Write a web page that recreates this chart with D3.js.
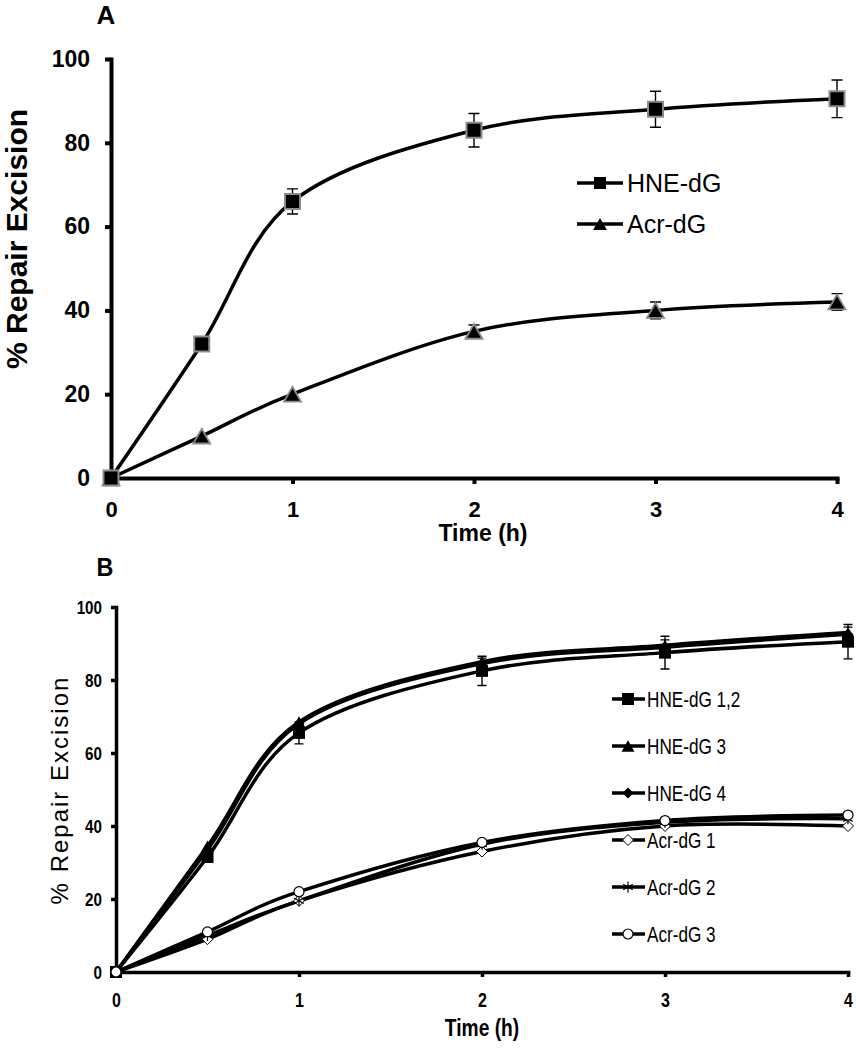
<!DOCTYPE html>
<html><head><meta charset="utf-8">
<script src="https://cdn.jsdelivr.net/npm/d3@7"></script>
<style>body{margin:0;background:#fff} svg{display:block}</style>
</head><body>
<svg id="c" width="856" height="1050"></svg>
<script>
// ---------- DATA ----------
const timeH = [0, 0.5, 1, 2, 3, 4];
const xTicks = [0, 1, 2, 3, 4];
const yTicks = [0, 20, 40, 60, 80, 100];
// Panel A
const hneA = [0, 32, 66, 83, 88, 90.5];
const hneAErr = [0, 0, 3, 4, 4.3, 4.5];
const acrA = [0, 10, 20, 35, 40, 42];
const acrAErr = [0, 0, 0, 1.5, 2, 2];
const namesA = ["HNE-dG", "Acr-dG"];
// Panel B
const hne12B = [0, 31.5, 65.5, 82.5, 87.5, 90.5];
const hne12BErr = [0, 1, 3, 4, 4.5, 4.7];
const hne3B = [0, 34.5, 68.5, 85, 89.5, 93];
const hne3BErr = [0, 0, 0, 1, 1.5, 1.5];
const hne4B = [0, 33.5, 68, 84.5, 89, 92.5];
const acr1B = [0, 9, 19.5, 33, 40, 40];
const acr2B = [0, 10, 19.5, 35, 41, 42];
const acr3B = [0, 11, 22, 35.5, 41.5, 43];
const namesB = ["HNE-dG 1,2", "HNE-dG 3", "HNE-dG 4", "Acr-dG 1", "Acr-dG 2", "Acr-dG 3"];

// ---------- HELPERS ----------
const svg = d3.select("#c");
const FONT = "'Liberation Sans', Arial, sans-serif";
const fmt = d3.format("d");

function markerPath(type, s) {
  const h = s / 2;
  switch (type) {
    case "square": return `M${-h},${-h}h${s}v${s}h${-s}Z`;
    case "triangle": { const th = s * 0.87; return `M0,${-th/2}L${h},${th/2}L${-h},${th/2}Z`; }
    case "diamond": return `M0,${-h}L${h},0L0,${h}L${-h},0Z`;
    case "circle": return `M${h},0A${h},${h} 0 1,1 ${-h},0A${h},${h} 0 1,1 ${h},0Z`;
    case "asterisk": {
      const a = h * 0.87, b = h * 0.5;
      return `M0,${-h}V${h}M${-a},${-b}L${a},${b}M${-a},${b}L${a},${-b}`;
    }
  }
}
function condense(sel, k) {
  sel.each(function () {
    const t = d3.select(this);
    const x = +t.attr("x") || 0, y = +t.attr("y") || 0;
    t.attr("x", null).attr("y", null).attr("transform", `translate(${x},${y}) scale(${k},1)`);
  });
}
function styleAxis(g, w, font, size, weight) {
  g.attr("font-family", font).attr("font-size", size).attr("font-weight", weight);
  g.select(".domain").attr("stroke", "#000").attr("stroke-width", w).attr("stroke-linecap", "square");
  g.selectAll(".tick line").attr("stroke", "#000").attr("stroke-width", w);
  g.selectAll(".tick text").attr("fill", "#000");
}
const curve = d3.curveCardinal.tension(0);

function drawSeries(g, x, y, vals, opt) {
  const pts = timeH.map((t, i) => [t, vals[i]]);
  g.append("path").datum(pts)
    .attr("d", d3.line().x(d => x(d[0])).y(d => y(d[1])).curve(curve))
    .attr("fill", "none").attr("stroke", "#000").attr("stroke-width", opt.lw);
}
function drawErr(g, x, y, vals, errs, cap, lw) {
  timeH.forEach((t, i) => {
    if (!errs[i]) return;
    const cx = x(t), y1 = y(vals[i] + errs[i]), y2 = y(vals[i] - errs[i]);
    g.append("path")
      .attr("d", `M${cx},${y1}V${y2}M${cx - cap/2},${y1}h${cap}M${cx - cap/2},${y2}h${cap}`)
      .attr("fill", "none").attr("stroke", "#000").attr("stroke-width", lw);
  });
}
function drawMarkers(g, x, y, vals, m) {
  g.selectAll(null).data(timeH.map((t, i) => [t, vals[i]])).enter().append("path")
    .attr("transform", d => `translate(${x(d[0])},${y(d[1])})`)
    .attr("d", markerPath(m.type, m.size))
    .attr("fill", m.fill).attr("stroke", m.stroke).attr("stroke-width", m.sw);
}

// ---------- PANEL A ----------
{
  const x = d3.scaleLinear().domain([0, 4]).range([111, 837]);
  const y = d3.scaleLinear().domain([0, 100]).range([478, 59]);
  const g = svg.append("g");

  const ay = g.append("g").attr("transform", `translate(${x(0)},0)`)
    .call(d3.axisLeft(y).tickValues(yTicks).tickFormat(fmt).tickSize(6).tickSizeOuter(0).tickPadding(15));
  styleAxis(ay, 4, FONT, 23, "bold");
  const ax = g.append("g").attr("transform", `translate(0,${y(0)})`)
    .call(d3.axisBottom(x).tickValues(xTicks).tickFormat(fmt).tickSize(6).tickSizeOuter(0).tickPadding(17));
  styleAxis(ax, 4, FONT, 22, "bold");

  g.append("text").attr("x", 106).attr("y", 24).attr("text-anchor", "middle")
    .attr("font-family", FONT).attr("font-size", 26).attr("font-weight", "bold").text("A");
  g.append("text").attr("x", 483).attr("y", 541).attr("text-anchor", "middle")
    .attr("font-family", FONT).attr("font-size", 23).attr("font-weight", "bold").text("Time (h)");
  g.append("text").attr("transform", "translate(27,239) rotate(-90)").attr("text-anchor", "middle")
    .attr("font-family", FONT).attr("font-size", 30).attr("font-weight", "bold").text("% Repair Excision");

  drawSeries(g, x, y, hneA, { lw: 3.5 });
  drawSeries(g, x, y, acrA, { lw: 3.5 });
  drawErr(g, x, y, hneA, hneAErr, 11, 1.4);
  drawErr(g, x, y, acrA, acrAErr, 11, 1.4);
  drawMarkers(g, x, y, acrA, { type: "triangle", size: 17, fill: "#000", stroke: "#8a8a8a", sw: 1.8 });
  drawMarkers(g, x, y, hneA, { type: "square", size: 15, fill: "#000", stroke: "#8a8a8a", sw: 2 });

  // legend
  const lg = g.append("g");
  const rows = [{ name: namesA[0], type: "square", cy: 183, s: 12 }, { name: namesA[1], type: "triangle", cy: 224, s: 14 }];
  rows.forEach(r => {
    lg.append("line").attr("x1", 577).attr("x2", 623).attr("y1", r.cy).attr("y2", r.cy)
      .attr("stroke", "#000").attr("stroke-width", 3.5);
    lg.append("path").attr("transform", `translate(600,${r.cy})`).attr("d", markerPath(r.type, r.s)).attr("fill", "#000");
    lg.append("text").attr("x", 627).attr("y", r.cy + 9).attr("font-family", FONT).attr("font-size", 25).text(r.name);
  });
}

// ---------- PANEL B ----------
{
  const x = d3.scaleLinear().domain([0, 4]).range([116, 848]);
  const y = d3.scaleLinear().domain([0, 100]).range([972, 607]);
  const g = svg.append("g");
  const K = 0.8;

  const ay = g.append("g").attr("transform", `translate(${x(0)},0)`)
    .call(d3.axisLeft(y).tickValues(yTicks).tickFormat(fmt).tickSize(5).tickSizeOuter(0).tickPadding(9));
  styleAxis(ay, 3.5, FONT, 19, "bold");
  condense(ay.selectAll(".tick text"), K);
  const ax = g.append("g").attr("transform", `translate(0,${y(0)})`)
    .call(d3.axisBottom(x).tickValues(xTicks).tickFormat(fmt).tickSize(5).tickSizeOuter(0).tickPadding(16));
  styleAxis(ax, 3.5, FONT, 20, "bold");
  condense(ax.selectAll(".tick text"), K);

  g.append("text").attr("transform", `translate(105,576) scale(0.9,1)`).attr("text-anchor", "middle")
    .attr("font-family", FONT).attr("font-size", 26).attr("font-weight", "bold").text("B");
  g.append("text").attr("transform", `translate(482,1036) scale(${K},1)`).attr("text-anchor", "middle")
    .attr("font-family", FONT).attr("font-size", 24).attr("font-weight", "bold").text("Time (h)");
  g.append("text").attr("transform", "translate(68,790) rotate(-90)").attr("text-anchor", "middle")
    .attr("font-family", FONT).attr("font-size", 24).attr("letter-spacing", 2).text("% Repair Excision");

  const lw = 3.5;
  [acr1B, acr2B, acr3B, hne4B, hne3B, hne12B].forEach(v => drawSeries(g, x, y, v, { lw }));
  drawErr(g, x, y, hne12B, hne12BErr, 9, 1.4);
  drawErr(g, x, y, hne3B, hne3BErr, 9, 1.4);

  const mk = [
    { v: hne12B, type: "square", size: 12, fill: "#000", stroke: "none", sw: 0 },
    { v: hne3B, type: "triangle", size: 13, fill: "#000", stroke: "none", sw: 0 },
    { v: hne4B, type: "diamond", size: 11, fill: "#000", stroke: "none", sw: 0 },
    { v: acr1B, type: "diamond", size: 11, fill: "#fff", stroke: "#000", sw: 1 },
    { v: acr2B, type: "asterisk", size: 11, fill: "none", stroke: "#000", sw: 1.2 },
    { v: acr3B, type: "circle", size: 10, fill: "#fff", stroke: "#000", sw: 1.2 }
  ];
  mk.forEach(m => drawMarkers(g, x, y, m.v, m));

  // legend
  const lg = g.append("g");
  const rowY = [699, 746, 793, 840, 887, 934];
  namesB.forEach((name, i) => {
    const cy = rowY[i], m = mk[i];
    lg.append("line").attr("x1", 612).attr("x2", 645).attr("y1", cy).attr("y2", cy)
      .attr("stroke", "#000").attr("stroke-width", 3.5);
    lg.append("path").attr("transform", `translate(628,${cy})`).attr("d", markerPath(m.type, m.size))
      .attr("fill", m.fill).attr("stroke", m.stroke).attr("stroke-width", m.sw);
    lg.append("text").attr("transform", `translate(647,${cy + 8}) scale(0.78,1)`)
      .attr("font-family", FONT).attr("font-size", 22).text(name);
  });
}
</script>
</body></html>
